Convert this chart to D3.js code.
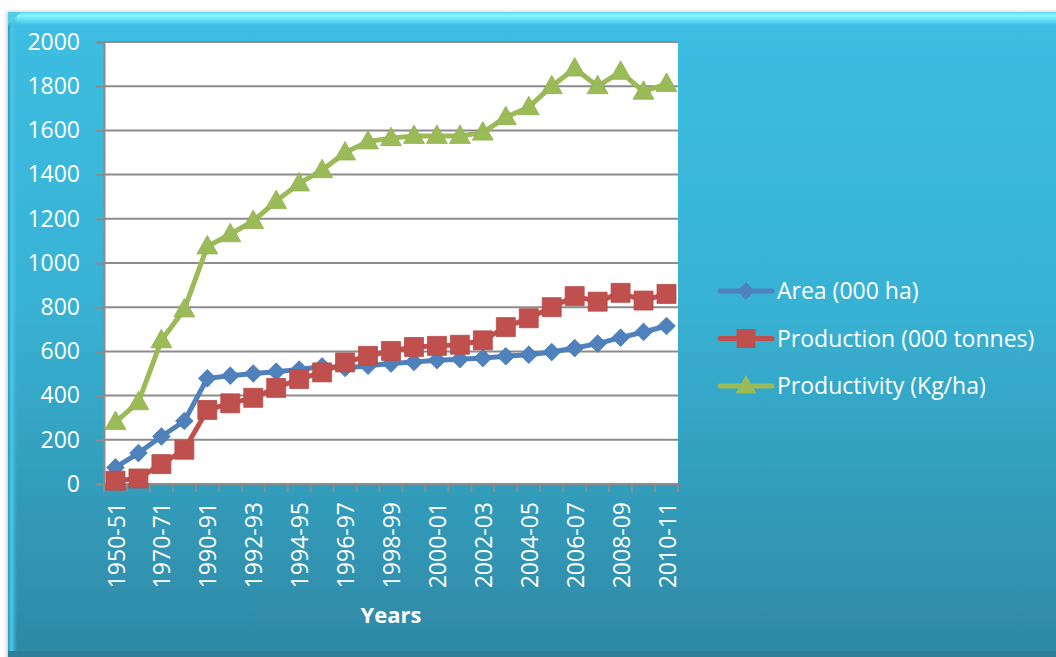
<!DOCTYPE html>
<html>
<head>
<meta charset="utf-8">
<script src="https://cdn.jsdelivr.net/npm/d3@7/dist/d3.min.js"></script>
<style>
  html, body { margin: 0; padding: 0; background: #ffffff; }
  svg { display: block; }
  text { font-family: "Open Sans", "Noto Sans", sans-serif; fill: #ffffff; }
</style>
</head>
<body>
<svg id="chart" width="1056" height="657"></svg>
<script>
// Crop statistics by year
const categories = [
  "1950-51", "1960-61", "1970-71", "1980-81", "1990-91", "1991-92", "1992-93",
  "1993-94", "1994-95", "1995-96", "1996-97", "1997-98", "1998-99", "1999-00",
  "2000-01", "2001-02", "2002-03", "2003-04", "2004-05", "2005-06", "2006-07",
  "2007-08", "2008-09", "2009-10", "2010-11"
];
const areaValues = [
  75, 140, 215, 285, 478, 490, 500, 508, 518, 532, 525, 535, 545, 552,
  560, 565, 570, 578, 585, 597, 615, 635, 662, 688, 715
];
const productionValues = [
  15, 25, 90, 155, 335, 365, 390, 435, 475, 505, 550, 580, 602, 620,
  625, 630, 650, 710, 750, 800, 850, 825, 865, 830, 860
];
const productivityValues = [
  280, 370, 650, 790, 1075, 1130, 1190, 1280, 1360, 1420, 1500, 1550, 1565, 1575,
  1575, 1575, 1590, 1660, 1705, 1800, 1880, 1800, 1865, 1775, 1810
];
const yTicks = [0, 200, 400, 600, 800, 1000, 1200, 1400, 1600, 1800, 2000];
const seriesNames = ["Area (000 ha)", "Production (000 tonnes)", "Productivity (Kg/ha)"];

const series = [
  { name: seriesNames[0], values: areaValues, color: "#4f81bd", marker: "diamond" },
  { name: seriesNames[1], values: productionValues, color: "#c0504d", marker: "square" },
  { name: seriesNames[2], values: productivityValues, color: "#9bbb59", marker: "triangle" }
];

const svg = d3.select("#chart");
const defs = svg.append("defs");

// Panel gradient
const bg = defs.append("linearGradient").attr("id", "panelFill")
  .attr("x1", 0).attr("y1", 0).attr("x2", 0).attr("y2", 1);
bg.append("stop").attr("offset", "0%").attr("stop-color", "#3cbee2");
bg.append("stop").attr("offset", "45%").attr("stop-color", "#38b2d4");
bg.append("stop").attr("offset", "100%").attr("stop-color", "#2e88a4");

const topBevel = defs.append("linearGradient").attr("id", "topBevel")
  .attr("x1", 0).attr("y1", 0).attr("x2", 0).attr("y2", 1);
topBevel.append("stop").attr("offset", "0%").attr("stop-color", "#5fd8f0");
topBevel.append("stop").attr("offset", "30%").attr("stop-color", "#86f6ff");
topBevel.append("stop").attr("offset", "100%").attr("stop-color", "#3cbee2");

const leftBevel = defs.append("linearGradient").attr("id", "leftBevel")
  .attr("x1", 0).attr("y1", 0).attr("x2", 1).attr("y2", 0);
leftBevel.append("stop").attr("offset", "0%").attr("stop-color", "#2a9cbc");
leftBevel.append("stop").attr("offset", "40%").attr("stop-color", "#4cc8e6");
leftBevel.append("stop").attr("offset", "100%").attr("stop-color", "rgba(60,190,226,0)");

const shadow = defs.append("filter").attr("id", "panelShadow")
  .attr("x", "-5%").attr("y", "-5%").attr("width", "110%").attr("height", "110%");
shadow.append("feDropShadow").attr("dx", -1).attr("dy", 0).attr("stdDeviation", 2)
  .attr("flood-color", "#000").attr("flood-opacity", 0.25);

// Background panel with bevelled edges
svg.append("rect").attr("x", 8).attr("y", 12).attr("width", 1060).attr("height", 650)
  .attr("fill", "url(#panelFill)").attr("filter", "url(#panelShadow)");
svg.append("rect").attr("x", 8).attr("y", 12).attr("width", 1060).attr("height", 13)
  .attr("fill", "url(#topBevel)");
svg.append("rect").attr("x", 8).attr("y", 12).attr("width", 9).attr("height", 650)
  .attr("fill", "url(#leftBevel)");
svg.append("path").attr("d", "M8,12 L21,12 L8,25 Z").attr("fill", "#56cde8");
svg.append("rect").attr("x", 8).attr("y", 651).attr("width", 1060).attr("height", 6)
  .attr("fill", "#2b7f99");

// Plot geometry
const plot = { left: 104, right: 678, top: 42, bottom: 484 };

const x = d3.scaleBand().domain(categories).range([plot.left, plot.right]).padding(0);
const y = d3.scaleLinear().domain([0, 2000]).range([plot.bottom, plot.top]);

svg.append("rect")
  .attr("x", plot.left).attr("y", plot.top)
  .attr("width", plot.right - plot.left).attr("height", plot.bottom - plot.top)
  .attr("fill", "#ffffff");

// Horizontal gridlines
svg.append("g").selectAll("line").data(yTicks.filter(d => d > 0)).join("line")
  .attr("x1", plot.left).attr("x2", plot.right)
  .attr("y1", d => y(d)).attr("y2", d => y(d))
  .attr("stroke", "#8c8c8c").attr("stroke-width", 2);

// Y axis
const yAxis = svg.append("g").attr("transform", `translate(${plot.left},0)`)
  .call(d3.axisLeft(y).tickValues(yTicks).tickSize(8).tickPadding(16).tickFormat(d3.format("d")));
yAxis.select(".domain").attr("stroke", "#8c8c8c").attr("stroke-width", 2);
yAxis.selectAll(".tick line").attr("stroke", "#8c8c8c").attr("stroke-width", 2);
yAxis.selectAll(".tick text")
  .attr("fill", "#ffffff").attr("font-size", 23).attr("font-family", "Open Sans, sans-serif");

// X axis line and category boundary ticks
const bounds = categories.map(c => x(c)).concat([plot.right]);
svg.append("line")
  .attr("x1", plot.left - 8).attr("x2", plot.right)
  .attr("y1", plot.bottom).attr("y2", plot.bottom)
  .attr("stroke", "#8c8c8c").attr("stroke-width", 2);
svg.append("g").selectAll("line").data(bounds).join("line")
  .attr("x1", d => d).attr("x2", d => d)
  .attr("y1", plot.bottom).attr("y2", plot.bottom + 8)
  .attr("stroke", "#8c8c8c").attr("stroke-width", 2);

// X tick labels (every other category), rotated
svg.append("g").selectAll("text")
  .data(categories.filter((c, i) => i % 2 === 0)).join("text")
  .attr("transform", d => `translate(${x(d) + x.bandwidth() / 2 + 1},${plot.bottom + 18}) rotate(-90)`)
  .attr("text-anchor", "end").attr("dy", "0.35em")
  .attr("font-size", 23).attr("fill", "#ffffff")
  .text(d => d);

// X axis title
svg.append("text")
  .attr("x", 391).attr("y", 623)
  .attr("text-anchor", "middle").attr("font-size", 22).attr("font-weight", "bold")
  .text("Years");

// Marker shapes
function markerPath(type) {
  if (type === "diamond") return d3.symbol().type(d3.symbolDiamond2).size(200)();
  if (type === "square") return "M-9.5,-9.5H9.5V9.5H-9.5Z";
  return "M0,-11L10.5,7.5L-10.5,7.5Z";
}

const line = d3.line()
  .x((d, i) => x(categories[i]) + x.bandwidth() / 2)
  .y(d => y(d));

series.forEach(s => {
  const g = svg.append("g");
  g.append("path").datum(s.values)
    .attr("d", line)
    .attr("fill", "none").attr("stroke", s.color)
    .attr("stroke-width", 5).attr("stroke-linejoin", "round").attr("stroke-linecap", "round");
  g.selectAll("path.m").data(s.values).join("path").attr("class", "m")
    .attr("transform", (d, i) => `translate(${x(categories[i]) + x.bandwidth() / 2},${y(d)})`)
    .attr("d", markerPath(s.marker))
    .attr("fill", s.color)
    .attr("stroke", d3.color(s.color).darker(0.15)).attr("stroke-width", 0.8);
});

// Legend
const legend = svg.append("g");
series.forEach((s, i) => {
  const ly = 291 + i * 47.5;
  legend.append("line")
    .attr("x1", 720).attr("x2", 772).attr("y1", ly).attr("y2", ly)
    .attr("stroke", s.color).attr("stroke-width", 5).attr("stroke-linecap", "round");
  legend.append("path")
    .attr("transform", `translate(746,${ly})`)
    .attr("d", markerPath(s.marker))
    .attr("fill", s.color);
  legend.append("text")
    .attr("x", 777).attr("y", ly).attr("dy", "0.35em")
    .attr("font-size", 23).attr("fill", "#ffffff")
    .text(s.name);
});
</script>
</body>
</html>
